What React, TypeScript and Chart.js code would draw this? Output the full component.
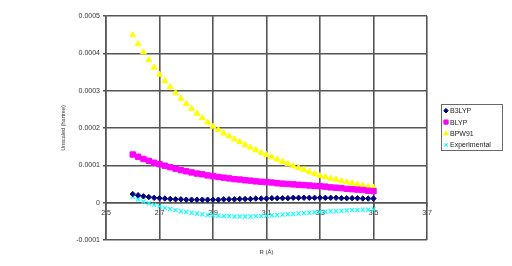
import React, { useEffect, useRef } from "react";
import { Chart, registerables } from "chart.js";
import { drawPoint } from "chart.js/helpers";

Chart.register(...registerables);

const R = [
  2.6, 2.62, 2.64, 2.66, 2.68, 2.7, 2.72, 2.74, 2.76, 2.78,
  2.8, 2.82, 2.84, 2.86, 2.88, 2.9, 2.92, 2.94, 2.96, 2.98,
  3.0, 3.02, 3.04, 3.06, 3.08, 3.1, 3.12, 3.14, 3.16, 3.18,
  3.2, 3.22, 3.24, 3.26, 3.28, 3.3, 3.32, 3.34, 3.36, 3.38,
  3.4, 3.42, 3.44, 3.46, 3.48, 3.5,
];

const B3LYP = [
  0.000023, 0.00002, 0.000017, 0.000015, 0.000013, 0.000012, 0.000011, 0.00001, 0.000009, 0.000009,
  0.000008, 0.000008, 0.000008, 0.000008, 0.000008, 0.000008, 0.000008, 0.000009, 0.000009, 0.000009,
  0.00001, 0.00001, 0.00001, 0.000011, 0.000011, 0.000011, 0.000012, 0.000012, 0.000012, 0.000012,
  0.000013, 0.000013, 0.000013, 0.000013, 0.000013, 0.000013, 0.000013, 0.000013, 0.000013, 0.000012,
  0.000012, 0.000012, 0.000012, 0.000011, 0.000011, 0.000011,
];

const BLYP = [
  0.000129, 0.000123, 0.000117, 0.000112, 0.000107, 0.000103, 0.000099, 0.000095, 0.000091, 0.000087,
  0.000084, 0.000081, 0.000078, 0.000076, 0.000073, 0.000071, 0.000069, 0.000067, 0.000065, 0.000063,
  0.000062, 0.00006, 0.000059, 0.000057, 0.000056, 0.000055, 0.000054, 0.000052, 0.000051, 0.00005,
  0.000049, 0.000048, 0.000047, 0.000046, 0.000045, 0.000044, 0.000043, 0.000041, 0.00004, 0.000039,
  0.000037, 0.000036, 0.000035, 0.000034, 0.000032, 0.000031,
];

const BPW91 = [
  0.000449, 0.000425, 0.000403, 0.000382, 0.000362, 0.000343, 0.000326, 0.00031, 0.000294, 0.000279,
  0.000265, 0.000252, 0.000239, 0.000227, 0.000215, 0.000204, 0.000195, 0.000186, 0.000178, 0.00017,
  0.000163, 0.000155, 0.000148, 0.000141, 0.000134, 0.000128, 0.000122, 0.000116, 0.00011, 0.000104,
  0.000098, 0.000093, 0.000088, 0.000083, 0.000077, 0.000072, 0.000069, 0.000065, 0.000062, 0.000058,
  0.000055, 0.000052, 0.000049, 0.000046, 0.000043, 0.000041,
];

const EXPERIMENTAL = [
  0.000016, 0.000009, 0.000003, -0.000002, -0.000006, -0.00001, -0.000014, -0.000017, -0.00002, -0.000023,
  -0.000025, -0.000027, -0.000029, -0.000031, -0.000033, -0.000034, -0.000035, -0.000036, -0.000036, -0.000037,
  -0.000037, -0.000037, -0.000037, -0.000036, -0.000036, -0.000035, -0.000034, -0.000033, -0.000032, -0.000031,
  -0.00003, -0.000029, -0.000028, -0.000027, -0.000026, -0.000025, -0.000024, -0.000023, -0.000023, -0.000022,
  -0.000021, -0.00002, -0.00002, -0.000019, -0.000019, -0.000018,
];

const SERIES_NAMES = ["B3LYP", "BLYP", "BPW91", "Experimental"];
const X_TITLE = "R (Å)";
const Y_TITLE = "Unscaled (hartree)";

const GRID = "#555555";
const FONT = "'Liberation Sans', Arial, sans-serif";

const toPts = (ys: number[]) => R.map((x, i) => ({ x, y: ys[i] }));

const boxedLegend = {
  id: "boxedLegend",
  afterDraw(chart: any) {
    const ctx = chart.ctx;
    const left = 441, top = 104, w = 61, h = 46;
    ctx.save();
    ctx.strokeStyle = "#6a6a6a";
    ctx.lineWidth = 1;
    ctx.strokeRect(left + 0.5, top + 0.5, w, h);
    ctx.font = `7px ${FONT}`;
    ctx.textBaseline = "middle";
    ctx.textAlign = "left";
    chart.data.datasets.forEach((ds: any, i: number) => {
      const y = top + 6.7 + i * 11.4;
      ctx.fillStyle = ds.backgroundColor;
      ctx.strokeStyle = ds.borderColor;
      ctx.lineWidth = ds.borderWidth;
      drawPoint(ctx, { pointStyle: ds.pointStyle, radius: ds.legendRadius, borderWidth: ds.borderWidth, rotation: 0 } as any, left + 5, y);
      ctx.fillStyle = "#1a1a1a";
      ctx.fillText(ds.label, left + 9, y + 0.5);
    });
    ctx.restore();
  },
};

export default function App() {
  const ref = useRef<HTMLCanvasElement>(null);
  useEffect(() => {
    if (!ref.current) return;
    const chart = new Chart(ref.current, {
      type: "scatter",
      data: {
        datasets: [
          {
            label: SERIES_NAMES[0],
            data: toPts(B3LYP),
            pointStyle: "rectRot",
            pointRadius: 2.7,
            backgroundColor: "#000080",
            borderColor: "#000080",
            borderWidth: 1,
            legendRadius: 2.3,
          } as any,
          {
            label: SERIES_NAMES[1],
            data: toPts(BLYP),
            pointStyle: "rect",
            pointRadius: 3.8,
            backgroundColor: "#ff00ff",
            borderColor: "#ff00ff",
            borderWidth: 1,
            legendRadius: 3,
          } as any,
          {
            label: SERIES_NAMES[2],
            data: toPts(BPW91),
            pointStyle: "triangle",
            pointRadius: 3.4,
            backgroundColor: "#ffff00",
            borderColor: "#ffff00",
            borderWidth: 1,
            legendRadius: 2.8,
          } as any,
          {
            label: SERIES_NAMES[3],
            data: toPts(EXPERIMENTAL),
            pointStyle: "crossRot",
            pointRadius: 2.9,
            backgroundColor: "#00ffff",
            borderColor: "#00ffff",
            borderWidth: 1.1,
            legendRadius: 2.3,
          } as any,
        ],
      },
      options: {
        responsive: false,
        animation: false,
        events: [],
        layout: { padding: { left: 55, top: 16, right: 85, bottom: 0 } },
        plugins: {
          legend: { display: false },
          tooltip: { enabled: false },
        },
        scales: {
          x: {
            type: "linear",
            position: { y: 0 } as any,
            min: 2.5,
            max: 3.7,
            ticks: {
              stepSize: 0.2,
              autoSkip: false,
              maxRotation: 0,
              padding: 3,
              color: "#333333",
              font: { family: FONT, size: 7 },
              callback: (v: any) => Number(v).toFixed(1),
            },
            grid: { color: GRID, lineWidth: 1.6, tickLength: 3, tickColor: GRID },
            border: { color: GRID, width: 1.6 },
          },
          xt: {
            type: "linear",
            position: "bottom",
            display: true,
            ticks: { display: false },
            grid: { display: false, drawTicks: false },
            border: { display: false },
            title: {
              display: true,
              text: X_TITLE,
              color: "#333333",
              font: { family: FONT, size: 6 },
              padding: { top: 0, bottom: 10 },
            },
            afterFit: (s: any) => { s.height = 26; },
          },
          y: {
            type: "linear",
            min: -0.0001,
            max: 0.0005,
            ticks: {
              stepSize: 0.0001,
              padding: 3,
              color: "#333333",
              font: { family: FONT, size: 7 },
              callback: (v: any) => String(Number(Number(v).toFixed(4))),
            },
            grid: { color: GRID, lineWidth: 1.6, tickLength: 3, tickColor: GRID },
            border: { color: GRID, width: 1.6 },
            title: {
              display: true,
              text: Y_TITLE,
              color: "#333333",
              font: { family: FONT, size: 5.5 },
              padding: { top: 5, bottom: 0 },
            },
            afterFit: (s: any) => { s.width = 51; },
          },
        },
      },
      plugins: [boxedLegend],
    });
    return () => chart.destroy();
  }, []);
  return (
    <div style={{ position: "absolute", left: 0, top: 0, width: 512, height: 266, background: "#fff" }}>
      <canvas ref={ref} width={512} height={266} style={{ display: "block" }} />
    </div>
  );
}
